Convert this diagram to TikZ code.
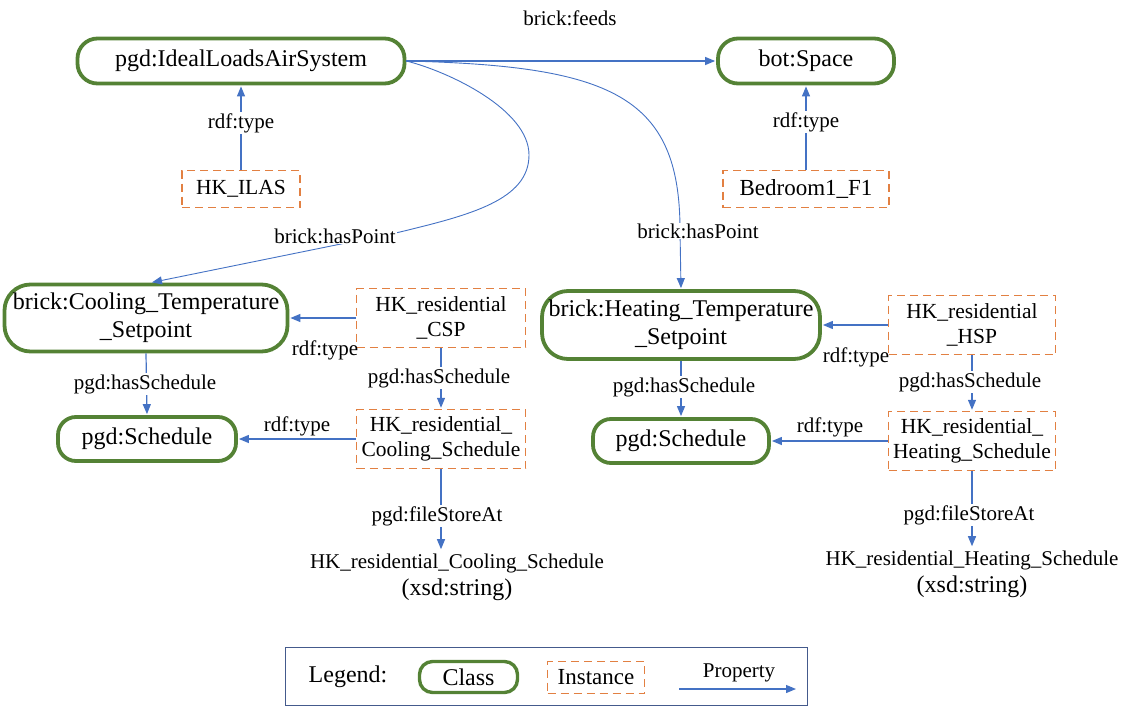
\documentclass[tikz,border=0pt]{standalone}
\usepackage{fontspec}
\setmainfont{Liberation Serif}
\newfontfamily\tnr{Liberation Serif}
\usetikzlibrary{arrows.meta,calc}
\definecolor{clsgreen}{RGB}{84,130,53}
\definecolor{instorange}{RGB}{226,128,66}
\definecolor{propblue}{RGB}{68,114,196}
\definecolor{legframe}{RGB}{68,90,140}
\tikzset{
 cls/.style={draw=clsgreen,line width=3.8pt,rounded corners=20pt,inner sep=0pt,align=center,font=\tnr\fontsize{24}{28}\selectfont},
 inst/.style={draw=instorange,line width=1.4pt,dash pattern=on 8pt off 5pt,inner sep=0pt,align=center,font=\tnr\fontsize{21.5}{25}\selectfont},
 prop/.style={draw=propblue,line width=1.2pt,shorten >=1pt,-{Triangle[length=10pt,width=8pt]}},
 lbl/.style={font=\tnr\fontsize{21}{24}\selectfont,inner sep=1pt},
 lblw/.style={lbl,fill=white},
 strlbl/.style={inner sep=3pt,anchor=base},
}
\begin{document}
\begin{tikzpicture}[x=1pt,y=-1pt]
\useasboundingbox (0,0) rectangle (1137,709);
% class and instance nodes
\node[cls,minimum width=327pt,minimum height=45pt] (ideal) at (241,61) {\tnr pgd:IdealLoadsAirSystem};
\node[cls,minimum width=176pt,minimum height=45pt] (space) at (806,61) {\tnr bot:Space};
\node[inst,minimum width=118pt,minimum height=37pt] (ilas) at (241,189) {\tnr HK\_ILAS};
\node[inst,minimum width=166pt,minimum height=37pt,font=\tnr\fontsize{23}{26}\selectfont] (bed) at (806,189) {\tnr Bedroom1\_F1};
\node[cls,rounded corners=26pt,minimum width=283pt,minimum height=67pt] (cool) at (146,318) {\tnr brick:Cooling\_Temperature\\\tnr\_Setpoint};
\node[inst,minimum width=169pt,minimum height=59pt] (csp) at (441,318) {\tnr HK\_residential\\\tnr\_CSP};
\node[cls,rounded corners=18pt,minimum width=178pt,minimum height=44pt] (sch1) at (147,439) {\tnr pgd:Schedule};
\node[inst,minimum width=169pt,minimum height=59pt] (ccs) at (441,439) {\tnr HK\_residential\_\\\tnr Cooling\_Schedule};
\node[strlbl,font=\tnr\fontsize{21}{24}\selectfont] (str1) at (457,568) {HK\_residential\_Cooling\_Schedule};
\node[strlbl,font=\tnr\fontsize{24}{28}\selectfont] (str1b) at (457,595) {(xsd:string)};
\node[cls,rounded corners=26pt,minimum width=278pt,minimum height=68pt] (heat) at (681,325) {\tnr brick:Heating\_Temperature\\\tnr\_Setpoint};
\node[inst,minimum width=167pt,minimum height=59pt] (hsp) at (972,325) {\tnr HK\_residential\\\tnr\_HSP};
\node[cls,rounded corners=18pt,minimum width=176pt,minimum height=44pt] (sch2) at (681,441) {\tnr pgd:Schedule};
\node[inst,minimum width=167pt,minimum height=59pt] (hhs) at (972,441) {\tnr HK\_residential\_\\\tnr Heating\_Schedule};
\node[strlbl,font=\tnr\fontsize{21}{24}\selectfont] (str2) at (972,565) {HK\_residential\_Heating\_Schedule};
\node[strlbl,font=\tnr\fontsize{24}{28}\selectfont] (str2b) at (972,592) {(xsd:string)};
% connectors
\draw[prop] (ideal.east) -- (space.west);
\draw[prop] (ilas.north) -- (ideal.south);
\draw[prop] (bed.north) -- (space.south);
\draw[prop,line width=0.9pt] (ideal.east) .. controls (450,72) and (529,110) .. (529,155) .. controls (529,200) and (470,215) .. (400,232) -- ($(cool.north)+(5,0)$);
\draw[prop,line width=0.9pt] (ideal.east) .. controls (610,66) and (680,95) .. (680,230) -- (heat.north);
\draw[prop] (csp.west) -- (cool.east);
\draw[prop] (cool.south) -- (sch1.north);
\draw[prop] (csp.south) -- (ccs.north);
\draw[prop] (ccs.west) -- (sch1.east);
\draw[prop] (ccs.south) -- (ccs.south |- str1.north);
\draw[prop] (hsp.west) -- (heat.east);
\draw[prop] (heat.south) -- (sch2.north);
\draw[prop] (hsp.south) -- (hhs.north);
\draw[prop] (hhs.west) -- (sch2.east);
\draw[prop] (hhs.south) -- (hhs.south |- str2.north);
% labels
\node[lbl] (lfeeds) at (570,18) {brick:feeds};
\node[lblw] (lt1) at (241,123) {rdf:type};
\node[lblw] (lt2) at (806,122) {rdf:type};
\node[lblw] (lhp1) at (335,236) {brick:hasPoint};
\node[lblw] (lhp2) at (698,231) {brick:hasPoint};
\node[lbl] (lt3) at (325,350) {rdf:type};
\node[lblw] (lhs1) at (145,384) {pgd:hasSchedule};
\node[lblw] (lhs2) at (439,378) {pgd:hasSchedule};
\node[lbl] (lt4) at (297,426) {rdf:type};
\node[lblw] (lfs1) at (437,516) {pgd:fileStoreAt};
\node[lbl] (lt5) at (856,357) {rdf:type};
\node[lblw] (lhs3) at (684,387) {pgd:hasSchedule};
\node[lblw] (lhs4) at (970,382) {pgd:hasSchedule};
\node[lbl] (lt6) at (830,427) {rdf:type};
\node[lblw] (lfs2) at (969,515) {pgd:fileStoreAt};
% legend
\node[draw=legframe,line width=1pt,minimum width=522pt,minimum height=58pt,inner sep=0pt] (legbox) at (546.5,676.5) {};
\node[font=\tnr\fontsize{24}{28}\selectfont,inner sep=0pt] (legt) at (348,677) {Legend:};
\node[cls,rounded corners=13pt,line width=3.4pt,minimum width=98pt,minimum height=31pt] (legc) at (468.5,677) {\tnr Class};
\node[inst,minimum width=97pt,minimum height=32pt,font=\tnr\fontsize{23}{26}\selectfont] (legi) at (596,677.5) {\tnr Instance};
\coordinate (pa) at (679,689);
\coordinate (pb) at (797,689);
\draw[prop] (pa) -- (pb);
\node[lbl] (lprop) at (739,673) {Property};
\end{tikzpicture}
\end{document}
